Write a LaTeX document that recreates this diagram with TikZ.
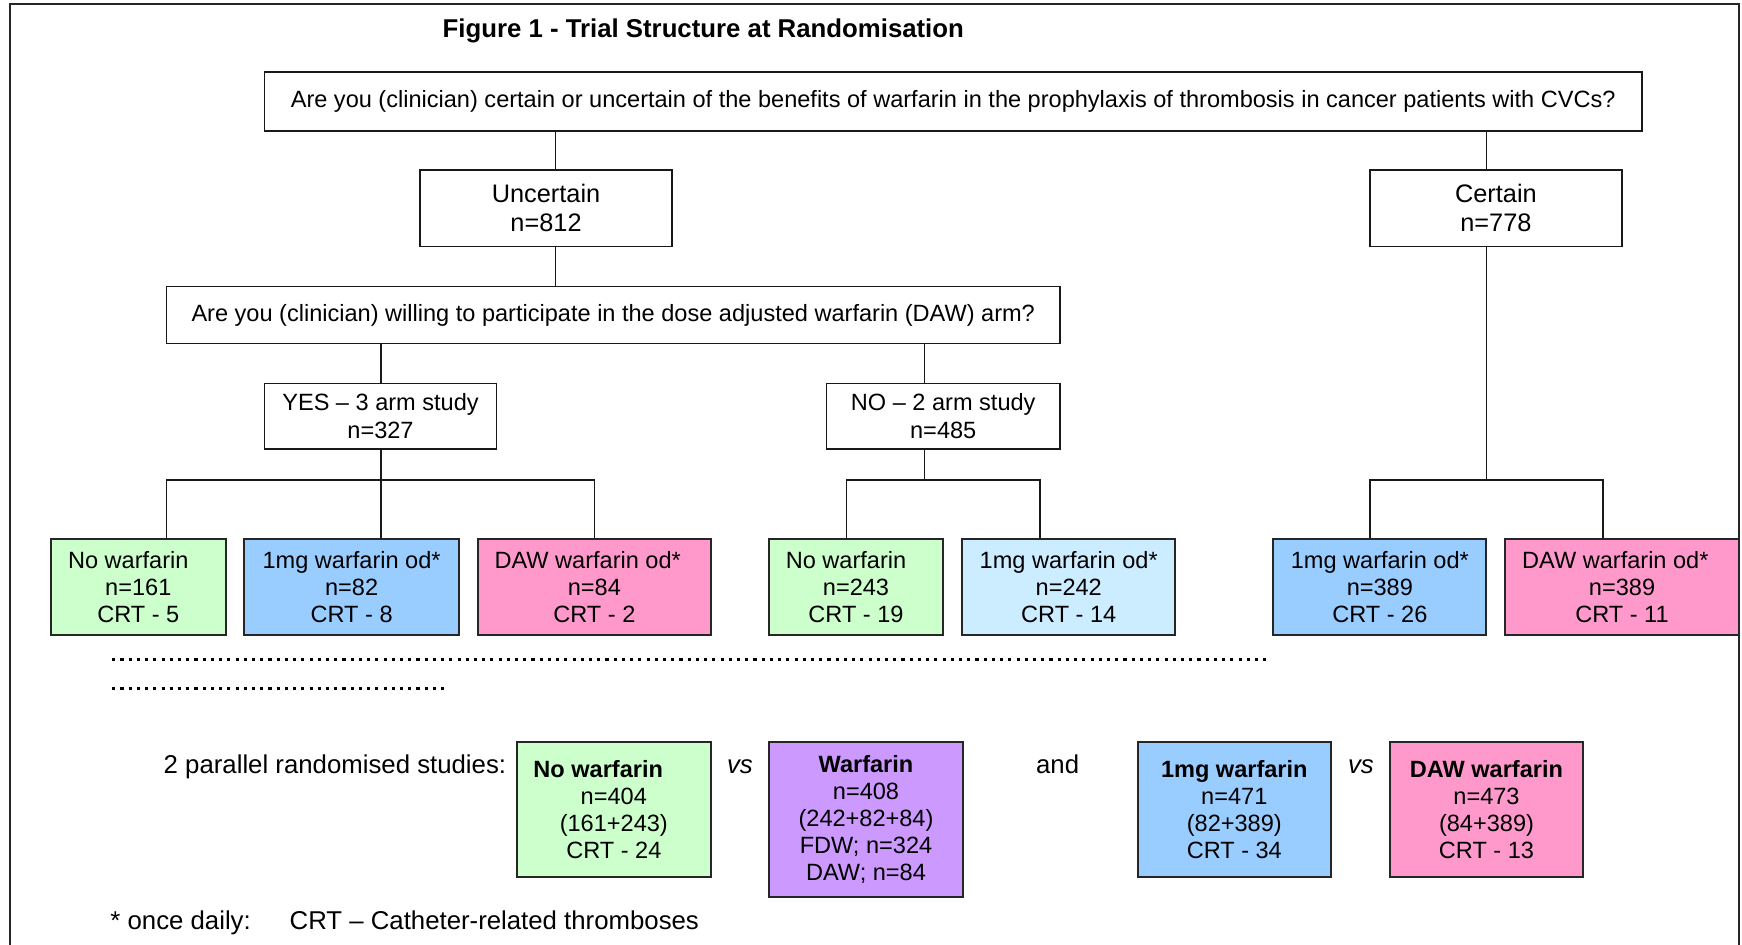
\documentclass[tikz,border=0pt]{standalone}
\usepackage{fontspec}
\setmainfont{Liberation Sans}
\usetikzlibrary{positioning,calc}

\definecolor{nogreen}{HTML}{CCFFCC}
\definecolor{lowblue}{HTML}{99CCFF}
\definecolor{paleblue}{HTML}{CCECFF}
\definecolor{dawpink}{HTML}{FF99CC}
\definecolor{warfpurple}{HTML}{CC99FF}

\tikzset{
questnode/.style={rectangle, draw=black!90, line width=0.65pt, inner sep=0pt},
groupnode/.style={rectangle, draw=black!90, line width=0.65pt, inner sep=0pt,
                  minimum width=113.5pt, minimum height=34.5pt,
                  font=\fontsize{11.4}{13}\selectfont},
armnode/.style={rectangle, draw=black!85, line width=0.9pt, inner sep=0pt, minimum height=43.5pt},
studynode/.style={rectangle, draw=black!85, line width=0.9pt, inner sep=0pt,
                  minimum width=87.5pt, minimum height=60.5pt},
bignode/.style={inner sep=0pt, font=\fontsize{11.6}{13.4}\selectfont},
connline/.style={line width=0.65pt, black!90},
dotrow/.style={line width=1.4pt, dash pattern=on 1.4pt off 2.3pt}
}

\begin{document}
\begin{tikzpicture}[x=0.5pt, y=-0.5pt, align=center, font=\fontsize{10.6}{12.2}\selectfont]
\useasboundingbox (0,0) rectangle (1568,850.6);

% frame, open at the bottom
\draw[line width=1pt, black!85] (9,851) -- (9,3.5) -- (1565.5,3.5) -- (1565.5,851);

\node[bignode, font=\fontsize{11.6}{13.4}\selectfont\bfseries, anchor=base west] (title) at (398,34) {Figure 1 - Trial Structure at Randomisation};

%Decision nodes
\node[questnode, minimum width=620pt, minimum height=26.5pt] (certq) at (858,91.5) {Are you (clinician) certain or uncertain of the benefits of warfarin in the prophylaxis of thrombosis in cancer patients with CVCs?};
\node[groupnode] (uncert) at (491.5,187.5) {Uncertain\\n=812};
\node[groupnode] (cert) at (1346.5,187.5) {Certain\\n=778};
\node[questnode, minimum width=402pt, minimum height=25.5pt] (dawq) at (552,283.5) {Are you (clinician) willing to participate in the dose adjusted warfarin (DAW) arm?};
\node[questnode, minimum width=104.5pt, minimum height=29.5pt] (yes) at (342.5,374.5) {YES -- 3 arm study\\n=327};
\node[questnode, minimum width=105pt, minimum height=29.5pt] (no) at (849,374.5) {NO -- 2 arm study\\n=485};

%Randomised arms
\node[armnode, minimum width=78.5pt, fill=nogreen] (noA) at (124.5,528.5) {No warfarin\hspace*{9pt}\\n=161\\CRT - 5};
\node[armnode, minimum width=96.5pt, fill=lowblue] (lowA) at (316.5,528.5) {1mg warfarin od*\\n=82\\CRT - 8};
\node[armnode, minimum width=105pt, fill=dawpink] (dawA) at (535,528.5) {DAW warfarin od*\hspace*{6pt}\\n=84\\CRT - 2};
\node[armnode, minimum width=78.5pt, fill=nogreen] (noB) at (770.5,528.5) {No warfarin\hspace*{9pt}\\n=243\\CRT - 19};
\node[armnode, minimum width=96pt, fill=paleblue] (lowB) at (962,528.5) {1mg warfarin od*\\n=242\\CRT - 14};
\node[armnode, minimum width=96pt, fill=lowblue] (lowC) at (1242,528.5) {1mg warfarin od*\\n=389\\CRT - 26};
\node[armnode, minimum width=105pt, fill=dawpink] (dawC) at (1460,528.5) {DAW warfarin od*\hspace*{6pt}\\n=389\\CRT - 11};

% connectors
\draw[connline] (certq.south -| 500,0) -- (uncert.north -| 500,0);
\draw[connline] (certq.south -| 1338,0) -- (cert.north -| 1338,0);
\draw[connline] (uncert.south -| 500,0) -- (dawq.north -| 500,0);
\draw[connline] (dawq.south -| 343,0) -- (yes.north -| 343,0);
\draw[connline] (dawq.south -| 832,0) -- (no.north -| 832,0);

\coordinate (yesfork) at (343,432);
\coordinate (nofork) at (832,432);
\coordinate (certfork) at (1338,432);
\draw[connline] (yes.south -| yesfork) -- (yesfork) -- (lowA.north -| yesfork);
\draw[connline] (noA.north -| 150,0) |- (yesfork) -| (dawA.north);
\draw[connline] (no.south -| nofork) -- (nofork);
\draw[connline] (noB.north -| 762,0) |- (nofork) -| (lowB.north -| 936,0);
\draw[connline] (cert.south -| certfork) -- (certfork);
\draw[connline] (lowC.north -| 1233,0) |- (certfork) -| (dawC.north -| 1443,0);

\draw[dotrow] (101,593.5) -- (1143,593.5);
\draw[dotrow] (101,620) -- (402,620);

%Pooled comparisons
\node[bignode, anchor=base east] (parallel) at (456,696) {2 parallel randomised studies:};
\node[studynode, fill=nogreen] (noS) at (552.5,728.5) {\textbf{No warfarin}\hspace*{14pt}\\n=404\\(161+243)\\CRT - 24};
\node[bignode, font=\fontsize{11.6}{13.4}\selectfont\itshape, anchor=base] (vsA) at (666,696) {vs};
\node[studynode, minimum height=69.5pt, fill=warfpurple] (warfS) at (779.5,737.5) {\textbf{Warfarin}\\n=408\\(242+82+84)\\FDW; n=324\\DAW; n=84};
\node[bignode, anchor=base] (andS) at (952,696) {and};
\node[studynode, minimum width=87pt, fill=lowblue] (lowS) at (1111,728.5) {\textbf{1mg warfarin}\\n=471\\(82+389)\\CRT - 34};
\node[bignode, font=\fontsize{11.6}{13.4}\selectfont\itshape, anchor=base] (vsB) at (1225,696) {vs};
\node[studynode, minimum width=87pt, fill=dawpink] (dawS) at (1338,728.5) {\textbf{DAW warfarin}\\n=473\\(84+389)\\CRT - 13};

\node[bignode, anchor=base west] (foot) at (99,837) {* once daily:\hspace*{17.5pt}CRT -- Catheter-related thromboses};

\end{tikzpicture}
\end{document}
